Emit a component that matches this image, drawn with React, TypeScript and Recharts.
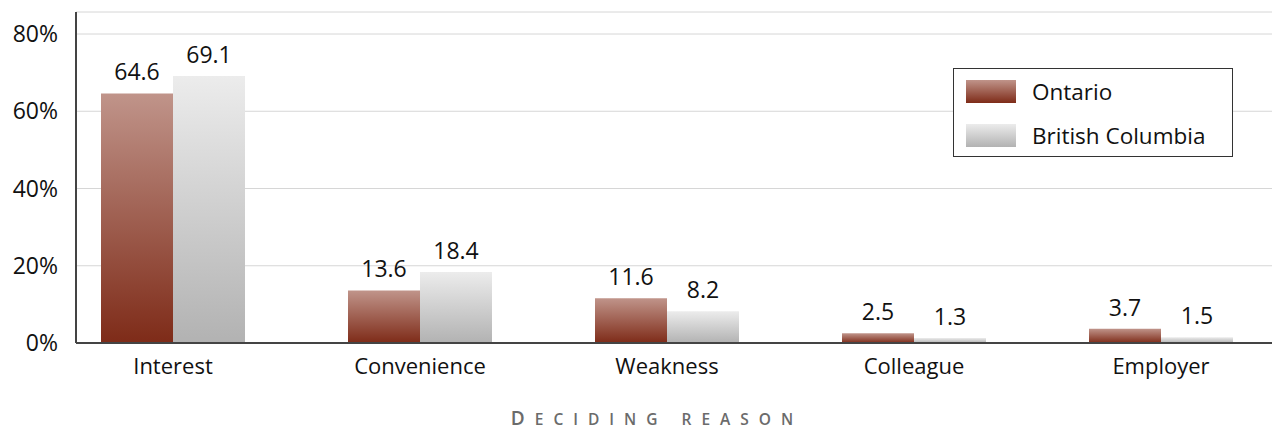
import { Bar, BarChart, CartesianGrid, LabelList, Legend, XAxis, YAxis } from 'recharts';

const reasons = ['Interest', 'Convenience', 'Weakness', 'Colleague', 'Employer'];
const ontario = [64.6, 13.6, 11.6, 2.5, 3.7];
const britishColumbia = [69.1, 18.4, 8.2, 1.3, 1.5];
const yTicks = [0, 20, 40, 60, 80];

const data = reasons.map((reason, i) => ({
  reason,
  ontario: ontario[i],
  bc: britishColumbia[i],
}));

const FONT = '"Open Sans", sans-serif';

const legendItems = [
  { label: 'Ontario', fill: 'url(#ontarioFill)' },
  { label: 'British Columbia', fill: 'url(#bcFill)' },
];

function LegendBox() {
  return (
    <div
      style={{
        width: 278,
        height: 87,
        border: '1px solid #333',
        background: '#fff',
        fontFamily: FONT,
        fontSize: 22.5,
        color: '#111',
      }}
    >
      {legendItems.map((item) => (
        <div key={item.label} style={{ display: 'flex', alignItems: 'center', height: 44 }}>
          <svg width={50} height={23} style={{ marginLeft: 12, marginRight: 16 }}>
            <rect width={50} height={23} fill={item.fill} />
          </svg>
          <span>{item.label}</span>
        </div>
      ))}
    </div>
  );
}

// small-caps style axis title under the categories
function AxisTitle(props: any) {
  const vb = props.viewBox || {};
  const cx = (vb.x ?? 0) + (vb.width ?? 0) / 2 - 17;
  return (
    <text
      x={cx}
      y={425}
      textAnchor="middle"
      fill="#6b6b6b"
      fontFamily={FONT}
      fontWeight={600}
      letterSpacing={10}
    >
      <tspan fontSize={19}>D</tspan>
      <tspan fontSize={15.5}>ECIDING REASON</tspan>
    </text>
  );
}

export default function App() {
  return (
    <div style={{ position: 'absolute', left: 0, top: 0, width: 1272, height: 432, background: '#fff' }}>
      <svg width={0} height={0} style={{ position: 'absolute' }}>
        <defs>
          <linearGradient id="ontarioFill" x1="0" y1="0" x2="0" y2="1">
            <stop offset="0%" stopColor="#c0948a" />
            <stop offset="100%" stopColor="#7e2b18" />
          </linearGradient>
          <linearGradient id="bcFill" x1="0" y1="0" x2="0" y2="1">
            <stop offset="0%" stopColor="#ececec" />
            <stop offset="100%" stopColor="#b2b2b2" />
          </linearGradient>
        </defs>
      </svg>
      <BarChart
        width={1272}
        height={432}
        data={data}
        margin={{ top: 12, right: 0, bottom: 0, left: 0 }}
        barCategoryGap={51.5}
        barGap={0}
      >
        <CartesianGrid vertical={false} stroke="#d6d6d6" strokeWidth={1} />
        <XAxis
          dataKey="reason"
          height={89}
          padding={{ left: -26.5, right: -12.5 }}
          tickLine={false}
          tickSize={0}
          tickMargin={15}
          axisLine={{ stroke: '#444', strokeWidth: 2 }}
          tick={{ fontSize: 22, fill: '#111', fontFamily: FONT }}
          interval={0}
          label={<AxisTitle />}
        />
        <YAxis
          width={76}
          domain={[0, 85.7]}
          ticks={yTicks}
          tickFormatter={(v: number) => `${v}%`}
          tickLine={false}
          tickSize={0}
          tickMargin={18}
          axisLine={{ stroke: '#444', strokeWidth: 2 }}
          tick={{ fontSize: 23, fill: '#111', fontFamily: FONT }}
        />
        <Legend
          layout="horizontal"
          verticalAlign="middle"
          wrapperStyle={{ position: 'absolute', left: 953, top: 68, width: 280 }}
          content={() => <LegendBox />}
        />
        <Bar dataKey="ontario" name="Ontario" fill="url(#ontarioFill)" isAnimationActive={false}>
          <LabelList
            dataKey="ontario"
            position="top"
            offset={13}
            style={{ fontSize: 23, fill: '#111', fontFamily: FONT }}
          />
        </Bar>
        <Bar dataKey="bc" name="British Columbia" fill="url(#bcFill)" isAnimationActive={false}>
          <LabelList
            dataKey="bc"
            position="top"
            offset={13}
            style={{ fontSize: 23, fill: '#111', fontFamily: FONT }}
          />
        </Bar>
      </BarChart>
    </div>
  );
}
